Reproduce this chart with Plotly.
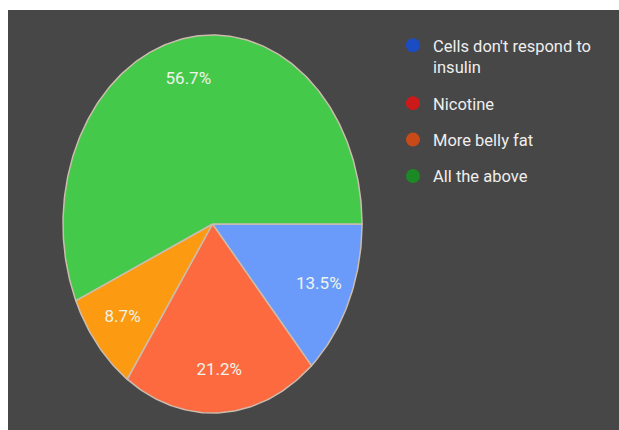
import numpy as np
import plotly.graph_objects as go

# ---- data ----
categories = ["Cells don't respond to insulin", "Nicotine", "More belly fat", "All the above"]
legend_labels = ["Cells don't respond to<br>insulin", "Nicotine", "More belly fat", "All the above"]
slice_values = [13.5, 21.2, 8.7, 56.7]          # percent, clockwise from 3 o'clock
slice_colors = ["#6a9bfb", "#fd6a3f", "#fc9a12", "#45c94a"]
legend_colors = ["#1c4cc4", "#cc1a1a", "#c84a18", "#1b8a25"]

BG = "#474747"
W, H = 619, 430
cx_px, cy_px = 212.5, 224.0   # pie centre in pixels (from top-left)
rx_px, ry_px = 149.5, 189.0   # radii in pixels (the chart is stretched vertically)
pad = 0.04

fig = go.Figure()

vals = np.array(slice_values, dtype=float)
fr = vals / vals.sum()
ends = np.cumsum(fr) * 2 * np.pi
starts = ends - fr * 2 * np.pi

for i, cat in enumerate(categories):
    n = max(int(fr[i] * 400), 12)
    t = np.linspace(starts[i], ends[i], n)
    xs = np.concatenate([[0], np.cos(t), [0]])
    ys = np.concatenate([[0], -np.sin(t), [0]])   # clockwise on screen
    fig.add_trace(go.Scatter(
        x=xs, y=ys, mode="lines", fill="toself",
        fillcolor=slice_colors[i],
        line=dict(color="#cbbcae", width=1.5),
        name=cat, showlegend=False, hoverinfo="name",
    ))

# percentage labels
mid = (starts + ends) / 2
r_lab = 0.78
fig.add_trace(go.Scatter(
    x=r_lab * np.cos(mid), y=-r_lab * np.sin(mid),
    mode="text", text=[f"{v:.1f}%" for v in slice_values],
    textfont=dict(family="Roboto", size=17, color="#eef4ea"),
    showlegend=False, hoverinfo="skip",
))

# legend entries (legend colours differ from the slice colours in the source)
for i, lab in enumerate(legend_labels):
    fig.add_trace(go.Scatter(
        x=[None], y=[None], mode="markers",
        marker=dict(size=14, color=legend_colors[i]),
        name=lab, legendgroup=f"g{i}", showlegend=True,
    ))

xd0 = (cx_px - (1 + pad) * rx_px) / W
xd1 = (cx_px + (1 + pad) * rx_px) / W
yd0 = (H - (cy_px + (1 + pad) * ry_px)) / H
yd1 = (H - (cy_px - (1 + pad) * ry_px)) / H

fig.update_layout(
    width=W, height=H,
    margin=dict(l=0, r=0, t=0, b=0),
    paper_bgcolor="white",
    plot_bgcolor="rgba(0,0,0,0)",
    xaxis=dict(range=[-1 - pad, 1 + pad], domain=[xd0, xd1], visible=False, fixedrange=True),
    yaxis=dict(range=[-1 - pad, 1 + pad], domain=[yd0, yd1], visible=False, fixedrange=True),
    shapes=[dict(type="rect", xref="paper", yref="paper",
                 x0=8 / W, x1=1, y0=0, y1=(H - 10) / H,
                 fillcolor=BG, line=dict(width=0), layer="below")],
    legend=dict(
        x=393 / W, y=(H - 28) / H, xanchor="left", yanchor="top",
        font=dict(family="Roboto", size=16.5, color="#eeeeee"),
        tracegroupgap=12, itemsizing="trace", valign="top",
        bgcolor="rgba(0,0,0,0)",
    ),
    showlegend=True,
)

fig.write_html("out.html")
